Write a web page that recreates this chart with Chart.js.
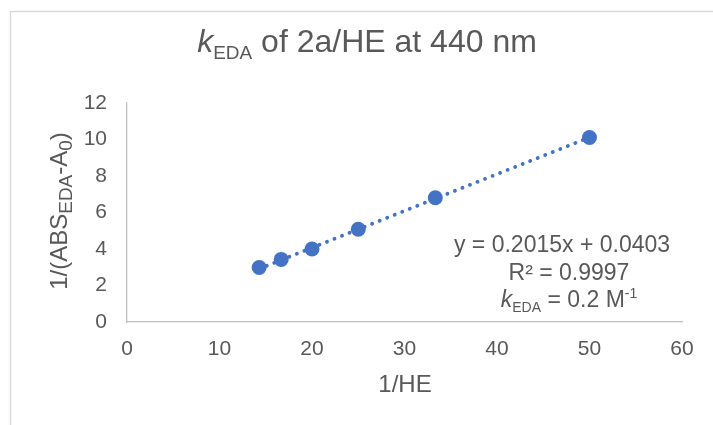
<!DOCTYPE html>
<html>
<head>
<meta charset="utf-8">
<script src="https://cdn.jsdelivr.net/npm/chart.js@4/dist/chart.umd.min.js"></script>
<style>
  html, body { margin: 0; padding: 0; background: #fff; }
  #wrap { width: 713px; height: 425px; }
</style>
</head>
<body>
<div id="wrap"><canvas id="kChart" width="713" height="425"></canvas></div>
<script>
// values
const heInv = [14.29, 16.67, 20.0, 25.0, 33.33, 50.0];
const absInv = [2.99, 3.43, 4.0, 5.08, 6.81, 10.11];
// linear trendline ends (as drawn)
const trendX = [14.29, 50.0];
const trendY = [2.92, 10.12];
const xTicks = [0, 10, 20, 30, 40, 50, 60];
const yTicks = [0, 2, 4, 6, 8, 10, 12];

const BLUE = '#4472C4';
const GREY = '#595959';
const FONT = '"Liberation Sans", Arial, sans-serif';

// draw a line of text made of pieces (italic / sub / sup)
function drawRich(ctx, segs, x, y, size, subScale) {
  const fontOf = s => (s.italic ? 'italic ' : '') + Math.round(size * (s.sub || s.sup ? subScale : 1)) + 'px ' + FONT;
  let total = 0;
  segs.forEach(s => { ctx.font = fontOf(s); total += ctx.measureText(s.t).width; });
  let cx = x - total / 2;
  ctx.textAlign = 'left';
  ctx.textBaseline = 'alphabetic';
  segs.forEach(s => {
    ctx.font = fontOf(s);
    const dy = s.sub ? size * 0.22 : (s.sup ? -size * 0.4 : 0);
    ctx.fillText(s.t, cx, y + dy);
    cx += ctx.measureText(s.t).width;
  });
}

const textPlugin = {
  id: 'texts',
  beforeDraw(chart) {
    const ctx = chart.ctx;
    ctx.save();
    ctx.fillStyle = '#fff';
    ctx.fillRect(0, 0, chart.width, chart.height);
    // outer frame (only top and left show)
    ctx.strokeStyle = '#d9d9d9';
    ctx.lineWidth = 1.5;
    ctx.beginPath();
    ctx.moveTo(10.5, chart.height);
    ctx.lineTo(10.5, 11.5);
    ctx.lineTo(chart.width, 11.5);
    ctx.stroke();
    ctx.restore();
  },
  afterDraw(chart) {
    const ctx = chart.ctx;
    ctx.save();
    ctx.fillStyle = GREY;
    // chart title
    drawRich(ctx, [
      { t: 'k', italic: true }, { t: 'EDA', sub: true }, { t: ' of 2a/HE at 440 nm' }
    ], 367, 52, 32, 0.6);
    // x axis title
    drawRich(ctx, [{ t: '1/HE' }], 405, 392, 24, 1);
    // y axis title, rotated
    ctx.save();
    ctx.translate(67, 211);
    ctx.rotate(-Math.PI / 2);
    drawRich(ctx, [
      { t: '1/(ABS' }, { t: 'EDA', sub: true }, { t: '-A' }, { t: '0', sub: true }, { t: ')' }
    ], 0, 0, 24, 0.78);
    ctx.restore();
    // trendline label
    drawRich(ctx, [{ t: 'y = 0.2015x + 0.0403' }], 562, 252, 23, 1);
    drawRich(ctx, [{ t: 'R² = 0.9997' }], 569, 280, 23, 1);
    drawRich(ctx, [
      { t: 'k', italic: true }, { t: 'EDA', sub: true }, { t: ' = 0.2 M' }, { t: '-1', sup: true }
    ], 569, 307, 23, 0.62);
    ctx.restore();
  }
};

new Chart(document.getElementById('kChart'), {
  type: 'scatter',
  data: {
    datasets: [
      {
        label: 'data',
        data: heInv.map((x, i) => ({ x, y: absInv[i] })),
        backgroundColor: BLUE,
        borderColor: BLUE,
        pointRadius: 7.5,
        pointHoverRadius: 7.5,
        borderWidth: 0,
        order: 0
      },
      {
        label: 'trend',
        data: trendX.map((x, i) => ({ x, y: trendY[i] })),
        showLine: true,
        borderColor: BLUE,
        borderWidth: 3.8,
        borderDash: [0.1, 8],
        borderCapStyle: 'round',
        pointRadius: 0,
        order: 1
      }
    ]
  },
  options: {
    responsive: false,
    animation: false,
    devicePixelRatio: 1,
    layout: { padding: { top: 103, right: 31, left: 0, bottom: 0 } },
    plugins: {
      legend: { display: false },
      tooltip: { enabled: false },
      title: { display: false }
    },
    scales: {
      x: {
        type: 'linear',
        min: xTicks[0],
        max: xTicks[xTicks.length - 1],
        afterBuildTicks: s => { s.ticks = xTicks.map(v => ({ value: v })); },
        afterFit: s => { s.height = 103; },
        grid: { display: false, drawTicks: false },
        border: { display: true, color: '#bfbfbf', width: 1.3 },
        ticks: { color: GREY, font: { family: FONT, size: 21 }, padding: 15, maxRotation: 0 }
      },
      y: {
        type: 'linear',
        min: yTicks[0],
        max: yTicks[yTicks.length - 1],
        afterBuildTicks: s => { s.ticks = yTicks.map(v => ({ value: v })); },
        afterFit: s => { s.width = 127; },
        grid: { display: false, drawTicks: false },
        border: { display: true, color: '#bfbfbf', width: 1.3 },
        ticks: { color: GREY, font: { family: FONT, size: 21 }, padding: 20 }
      }
    }
  },
  plugins: [textPlugin]
});
</script>
</body>
</html>
